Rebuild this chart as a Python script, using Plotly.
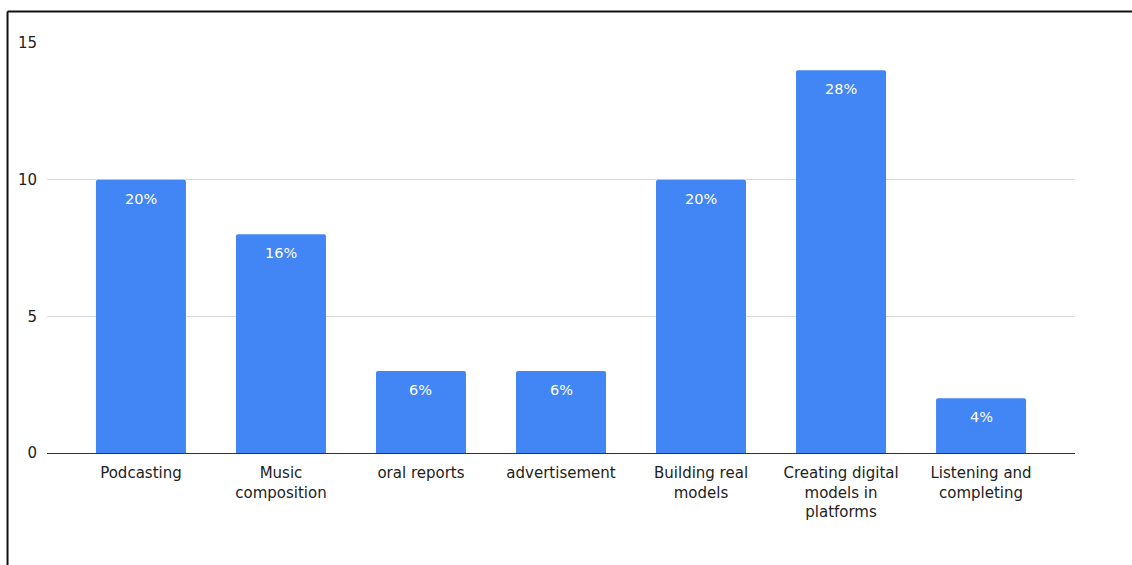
import plotly.graph_objects as go

# Activity categories and number of responses
categories = [
    "Podcasting",
    "Music<br>composition",
    "oral reports",
    "advertisement",
    "Building real<br>models",
    "Creating digital<br>models in<br>platforms",
    "Listening and<br>completing",
]
counts = [10, 8, 3, 3, 10, 14, 2]
y_ticks = [0, 5, 10, 15]

total = sum(counts)
pct_labels = [f"{round(c / total * 100)}%" for c in counts]

fig = go.Figure(
    go.Bar(
        x=list(range(len(categories))),
        y=counts,
        marker=dict(color="#4285F4", line=dict(width=0)),
        hoverinfo="skip",
    )
)

# Percentage labels inside the top of each bar
for i, (c, t) in enumerate(zip(counts, pct_labels)):
    fig.add_annotation(
        x=i, y=c, text=t, showarrow=False, yanchor="top", yshift=-9,
        font=dict(family="DejaVu Sans, sans-serif", size=14.5, color="white"),
    )

font = dict(family="DejaVu Sans, sans-serif", size=15, color="#222222")

fig.update_layout(
    width=1132, height=565,
    margin=dict(l=47, r=57, t=43, b=112),
    paper_bgcolor="white", plot_bgcolor="white",
    bargap=50 / 140,
    barcornerradius=2,
    showlegend=False,
    font=font,
    xaxis=dict(
        tickmode="array",
        tickvals=list(range(len(categories))),
        ticktext=categories,
        range=[-0.671, 6.671],
        showgrid=False, zeroline=False, showline=False,
        ticks="outside", ticklen=6, tickcolor="rgba(0,0,0,0)",
        tickfont=font,
    ),
    yaxis=dict(
        range=[0, 15],
        tickmode="array", tickvals=y_ticks,
        showgrid=True, gridcolor="#d9d9d9", gridwidth=1,
        zeroline=True, zerolinecolor="#333333", zerolinewidth=1,
        showline=False,
        ticks="outside", ticklen=6, tickcolor="rgba(0,0,0,0)",
        tickfont=font,
    ),
)

# Frame around the chart (left and top edges)
frame_x = -0.0384
frame_y = 1.0768
fig.add_shape(type="line", xref="paper", yref="paper",
              x0=frame_x, x1=frame_x, y0=-0.4, y1=frame_y,
              line=dict(color="#111111", width=2))
fig.add_shape(type="line", xref="paper", yref="paper",
              x0=frame_x, x1=1.2, y0=frame_y, y1=frame_y,
              line=dict(color="#111111", width=2))

fig.write_html("out.html")
